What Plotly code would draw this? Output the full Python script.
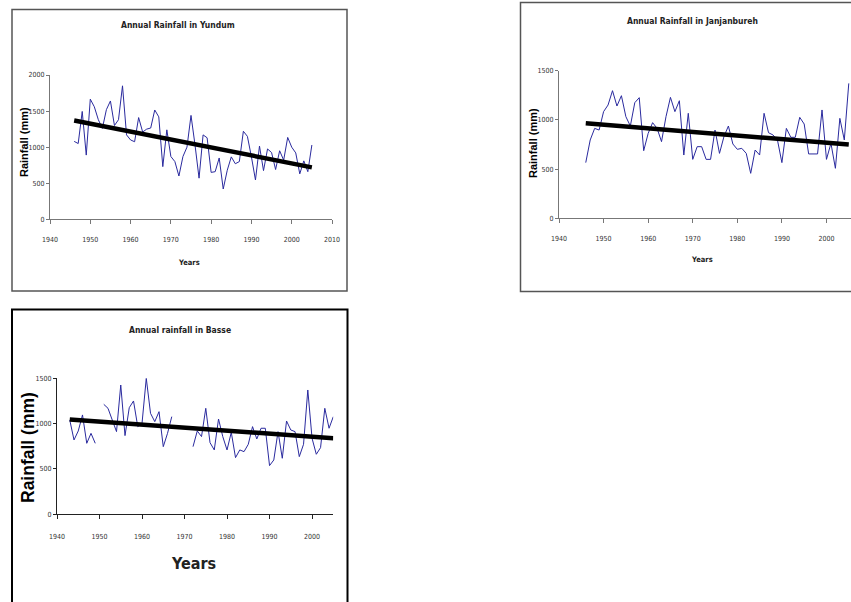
import plotly.graph_objects as go

# ---------------- data ----------------
years_yundum = list(range(1946, 2006))
rain_yundum = [1080, 1050, 1495, 890, 1665, 1560, 1380, 1260, 1520, 1640,
               1300, 1380, 1850, 1170, 1100, 1075, 1410, 1210, 1250, 1265,
               1515, 1420, 730, 1240, 870, 800, 600, 870, 1000, 1440,
               1030, 570, 1170, 1130, 650, 660, 850, 420, 680, 865,
               770, 800, 1220, 1150, 865, 545, 1015, 675, 975, 925,
               690, 950, 820, 1135, 1000, 920, 630, 810, 660, 1030]
trend_years_yundum = [1946, 2005]
trend_yundum = [1370, 720]

years_janjan = list(range(1946, 2006))
rain_janjan = [566, 796, 914, 897, 1084, 1151, 1297, 1141, 1246, 1033,
               938, 1175, 1226, 687, 863, 972, 914, 779, 1033, 1229,
               1084, 1195, 643, 1067, 599, 728, 728, 599, 599, 897,
               660, 830, 938, 755, 701, 711, 660, 457, 694, 643,
               1067, 870, 847, 796, 566, 914, 823, 823, 1026, 958,
               654, 654, 654, 1101, 599, 762, 508, 1016, 796, 1371]
trend_years_janjan = [1946, 2005]
trend_janjan = [965, 750]

years_basse = list(range(1943, 2006))
rain_basse = [1040, 820, 919, 1096, 783, 893, 783, None, 1213, 1169,
              1040, 912, 1426, 868, 1176, 1250, 967, 1004, 1500, 1114,
              1022, 1132, 746, 893, 1077, None, None, None, None, 746,
              919, 857, 1169, 790, 710, 1051, 857, 710, 904, 625,
              710, 691, 772, 967, 831, 949, 949, 537, 599, 912,
              618, 1029, 930, 912, 636, 772, 1371, 838, 662, 735,
              1169, 949, 1077]
trend_years_basse = [1943, 2005]
trend_basse = [1045, 840]

W, H = 851, 602
def px(x):
    return x / W
def py(y):
    return 1 - y / H

LINE_COLOR = "#2a2a9e"
NARROW = "Liberation Sans Narrow, Arial Narrow, DejaVu Sans Condensed, Liberation Sans, Arial, sans-serif"
BOLDF = "Liberation Sans, Arial, sans-serif"

fig = go.Figure()

def add_series(xs, ys, txs, tys, ax):
    fig.add_trace(go.Scatter(x=xs, y=ys, mode="lines", connectgaps=False,
                             line=dict(color=LINE_COLOR, width=1),
                             xaxis="x" + ax, yaxis="y" + ax, showlegend=False,
                             hoverinfo="x+y"))
    fig.add_trace(go.Scatter(x=txs, y=tys, mode="lines",
                             line=dict(color="black", width=4.5),
                             xaxis="x" + ax, yaxis="y" + ax, showlegend=False,
                             hoverinfo="skip"))

add_series(years_yundum, rain_yundum, trend_years_yundum, trend_yundum, "")
add_series(years_janjan, rain_janjan, trend_years_janjan, trend_janjan, "2")
add_series(years_basse, rain_basse, trend_years_basse, trend_basse, "3")

def xax(dom, rng, anchor, color, standoff):
    return dict(domain=dom, range=rng, anchor=anchor, tick0=1940, dtick=10,
                showgrid=False, zeroline=False, showline=True, linecolor=color,
                linewidth=1, ticks="outside", ticklen=4, tickcolor=color,
                tickfont=dict(family=NARROW, size=7, color="#333333"),
                ticklabelstandoff=standoff, fixedrange=True, automargin=False)

def yax(dom, rng, dtick, anchor, color):
    return dict(domain=dom, range=rng, anchor=anchor, dtick=dtick, tick0=0,
                showgrid=False, zeroline=False, showline=True, linecolor=color,
                linewidth=1, ticks="outside", ticklen=3, tickcolor=color,
                tickfont=dict(family=NARROW, size=7, color="#333333"),
                fixedrange=True, automargin=False)

fig.update_layout(
    width=W, height=H,
    margin=dict(l=0, r=0, t=0, b=0, pad=0),
    paper_bgcolor="white", plot_bgcolor="white",
    xaxis=xax([px(50), px(332)], [1940, 2010], "y", "#777777", 9),
    yaxis=yax([py(219.3), py(75)], [0, 2000], 500, "x", "#777777"),
    xaxis2=xax([px(559), 1.0], [1940, 2005.5], "y2", "#777777", 9),
    yaxis2=yax([py(218.3), py(70.7)], [0, 1500], 500, "x2", "#777777"),
    xaxis3=xax([px(57), px(333.3)], [1940, 2005], "y3", "#222222", 11),
    yaxis3=yax([py(514.3), py(378.3)], [0, 1500], 500, "x3", "#222222"),
)

shapes = [
    dict(type="rect", xref="paper", yref="paper", x0=px(12), x1=px(347),
         y0=py(291), y1=py(9.5), line=dict(color="#555555", width=1.5)),
    dict(type="rect", xref="paper", yref="paper", x0=px(520.5), x1=1.05,
         y0=py(291.5), y1=py(2.5), line=dict(color="#555555", width=1.5)),
    dict(type="rect", xref="paper", yref="paper", x0=px(12), x1=px(347.5),
         y0=-0.05, y1=py(309.5), line=dict(color="black", width=2)),
]

def ann(text, x, y, size, family=NARROW, angle=0, color="#222222"):
    return dict(text="<b>%s</b>" % text, x=px(x), y=py(y),
                xref="paper", yref="paper", showarrow=False, textangle=angle,
                xanchor="center", yanchor="middle",
                font=dict(family=family, size=size, color=color))

annotations = [
    ann("Annual Rainfall in Yundum", 178, 25, 8.5),
    ann("Years", 189, 262, 7.5),
    ann("Rainfall (mm)", 24, 142, 11, family=BOLDF, angle=-90, color="black"),
    ann("Annual Rainfall in Janjanbureh", 692, 21, 8.5),
    ann("Years", 702, 259, 7.5),
    ann("Rainfall (mm)", 533, 143, 11, family=BOLDF, angle=-90, color="black"),
    ann("Annual rainfall in Basse", 180, 330, 8.5),
    ann("Years", 193, 563, 16),
    ann("Rainfall (mm)", 28, 448, 17.5, family=BOLDF, angle=-90, color="black"),
]

fig.update_layout(shapes=shapes, annotations=annotations)

fig.write_html(
    "out.html",
    config={"displayModeBar": False, "displaylogo": False},
    post_script="document.documentElement.style.margin='0';"
                "document.body.style.margin='0';"
                "document.body.style.overflow='hidden';",
)
